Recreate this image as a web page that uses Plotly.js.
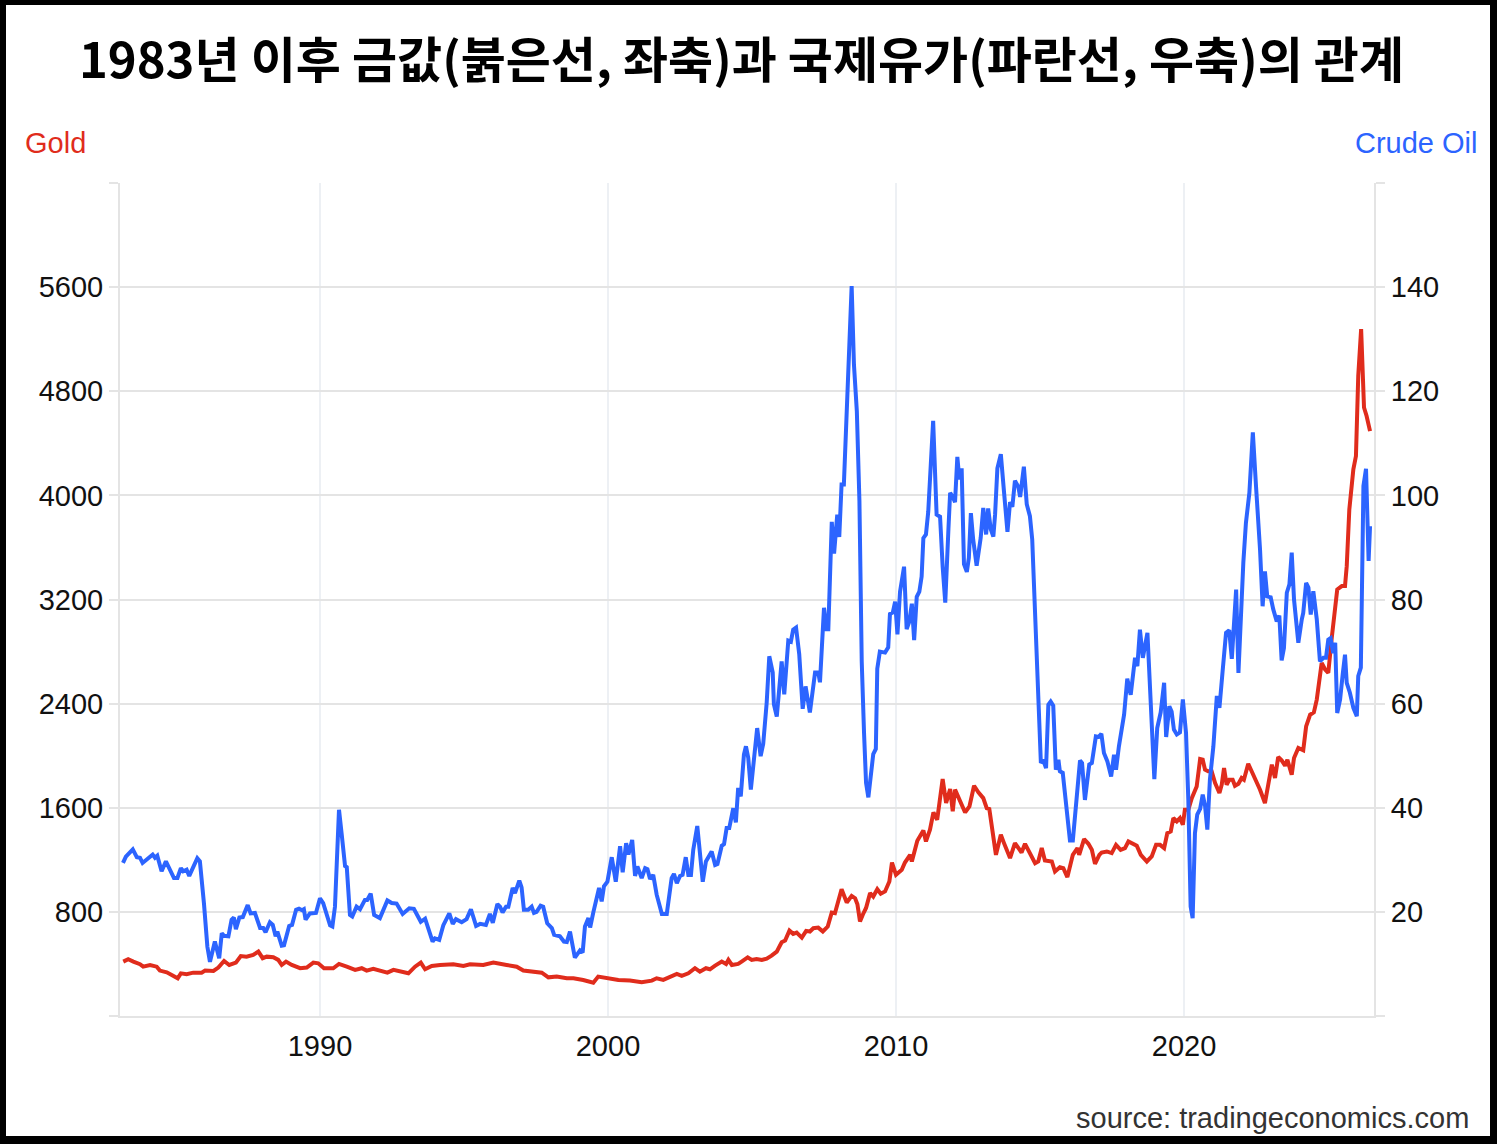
<!DOCTYPE html>
<html>
<head>
<meta charset="utf-8">
<script src="https://cdn.plot.ly/plotly-3.0.1.min.js"></script>
<style>
  html, body { margin: 0; padding: 0; background: #fff; }
  #chart { width: 1497px; height: 1144px; }
  #frame {
    position: absolute; left: 0; top: 0; width: 1497px; height: 1144px;
    box-sizing: border-box; border: solid #000; border-width: 5px 7px 8px 6px;
    pointer-events: none;
  }
</style>
</head>
<body>
<div id="chart"></div>
<div id="frame"></div>
<script>
// ─── Data ([decimal year, value]) ───────────────────────────────────────────

const TITLE = '1983년 이후 금값(붉은선, 좌축)과 국제유가(파란선, 우축)의 관계';

// Crude oil, USD/bbl (right axis)
const oilSeries = [
  [1983.16,29.4],[1983.26,30.6],[1983.50,32.0],[1983.64,30.5],[1983.75,30.4],[1983.84,29.4],
  [1984.10,30.6],[1984.19,31.0],[1984.27,30.4],[1984.35,30.8],[1984.50,27.8],[1984.65,29.7],
  [1984.93,26.5],[1985.05,26.5],[1985.17,28.4],[1985.25,27.8],[1985.37,28.1],[1985.46,26.9],
  [1985.74,30.3],[1985.83,29.7],[1985.97,21.7],[1986.09,13.3],[1986.18,10.4],[1986.35,14.3],
  [1986.50,11.1],[1986.59,15.9],[1986.67,15.4],[1986.82,15.3],[1986.93,18.5],[1987.01,18.9],
  [1987.08,16.7],[1987.20,18.9],[1987.32,19.0],[1987.49,21.3],[1987.59,19.7],[1987.74,19.8],
  [1987.92,16.9],[1988.03,16.9],[1988.11,16.1],[1988.26,18.0],[1988.36,17.5],[1988.46,15.3],
  [1988.52,16.2],[1988.67,13.5],[1988.75,13.6],[1988.93,17.3],[1989.03,17.5],[1989.17,20.4],
  [1989.27,20.6],[1989.38,20.3],[1989.44,20.5],[1989.50,18.5],[1989.65,19.7],[1989.73,19.8],
  [1989.86,19.8],[1990.00,22.6],[1990.11,21.7],[1990.35,17.4],[1990.43,17.2],[1990.52,21.0],
  [1990.66,39.6],[1990.75,35.1],[1990.87,28.8],[1990.93,28.6],[1991.04,19.4],[1991.12,19.1],
  [1991.27,21.0],[1991.39,20.5],[1991.56,22.3],[1991.64,22.3],[1991.76,23.5],[1991.88,19.4],
  [1992.08,18.8],[1992.34,22.2],[1992.49,21.7],[1992.66,21.6],[1992.87,19.6],[1993.10,20.7],
  [1993.26,20.6],[1993.50,18.1],[1993.65,18.7],[1993.91,14.3],[1993.99,14.9],[1994.14,14.6],
  [1994.28,17.4],[1994.49,19.7],[1994.61,17.7],[1994.72,18.6],[1994.92,18.0],[1995.09,18.6],
  [1995.24,20.5],[1995.42,17.3],[1995.56,17.7],[1995.76,17.5],[1995.90,19.6],[1996.00,17.9],
  [1996.16,21.5],[1996.25,21.0],[1996.34,19.9],[1996.46,21.0],[1996.54,21.0],[1996.69,24.6],
  [1996.77,23.6],[1996.92,26.0],[1997.00,24.7],[1997.08,20.4],[1997.23,20.4],[1997.35,21.0],
  [1997.43,19.8],[1997.52,20.0],[1997.66,21.2],[1997.75,21.0],[1997.89,17.8],[1998.05,16.9],
  [1998.13,15.6],[1998.33,15.3],[1998.47,14.3],[1998.57,14.2],[1998.68,16.2],[1998.85,11.2],
  [1999.03,12.6],[1999.12,12.2],[1999.20,17.2],[1999.32,18.8],[1999.38,17.0],[1999.49,19.9],
  [1999.69,24.6],[1999.78,22.0],[1999.86,24.9],[1999.98,25.8],[2000.13,30.5],[2000.27,25.8],
  [2000.42,32.6],[2000.51,27.6],[2000.63,33.2],[2000.71,31.0],[2000.84,33.8],[2000.94,26.9],
  [2001.02,28.7],[2001.17,26.5],[2001.29,28.4],[2001.37,28.2],[2001.46,26.3],[2001.57,27.1],
  [2001.69,23.3],[2001.87,19.6],[2002.04,19.6],[2002.21,26.5],[2002.29,27.3],[2002.39,25.5],
  [2002.50,26.9],[2002.59,27.1],[2002.70,30.5],[2002.79,27.1],[2002.88,27.1],[2002.96,31.9],
  [2003.10,36.5],[2003.29,25.8],[2003.40,29.7],[2003.60,31.6],[2003.72,29.0],[2003.80,29.2],
  [2003.95,32.7],[2004.03,33.0],[2004.12,36.1],[2004.21,36.1],[2004.35,39.9],[2004.44,37.2],
  [2004.52,43.8],[2004.61,42.2],[2004.72,50.2],[2004.79,51.8],[2004.87,49.6],[2004.96,43.5],
  [2005.07,49.6],[2005.18,55.3],[2005.30,49.9],[2005.39,52.3],[2005.51,60.2],[2005.60,69.1],
  [2005.72,66.0],[2005.76,59.9],[2005.86,57.5],[2006.03,68.1],[2006.12,61.8],[2006.26,72.1],
  [2006.35,71.9],[2006.43,74.2],[2006.53,74.6],[2006.64,69.5],[2006.76,59.0],[2006.86,63.3],
  [2007.01,58.3],[2007.19,66.0],[2007.30,66.0],[2007.36,64.1],[2007.50,78.4],[2007.59,74.3],
  [2007.65,74.3],[2007.77,94.9],[2007.85,88.8],[2007.96,96.3],[2008.03,92.0],[2008.11,102.1],
  [2008.19,102.1],[2008.31,120.3],[2008.46,140.2],[2008.54,125.1],[2008.64,116.2],[2008.73,99.0],
  [2008.81,68.1],[2008.89,54.4],[2008.96,44.8],[2009.04,42.0],[2009.13,46.1],[2009.21,50.3],
  [2009.30,51.3],[2009.35,66.7],[2009.44,70.0],[2009.54,69.8],[2009.62,69.8],[2009.73,70.8],
  [2009.79,77.2],[2009.89,77.5],[2009.97,79.6],[2010.05,73.3],[2010.14,81.5],[2010.28,86.3],
  [2010.37,74.3],[2010.46,75.7],[2010.55,79.2],[2010.63,72.2],[2010.72,80.5],[2010.81,81.5],
  [2010.89,84.4],[2010.95,91.8],[2011.04,92.5],[2011.12,96.9],[2011.29,114.3],[2011.41,96.3],
  [2011.53,95.9],[2011.62,86.3],[2011.71,79.4],[2011.82,93.5],[2011.88,100.5],[2011.97,99.7],
  [2012.05,98.7],[2012.13,107.4],[2012.20,103.1],[2012.28,105.2],[2012.36,86.8],[2012.46,85.3],
  [2012.53,88.0],[2012.60,96.6],[2012.68,91.5],[2012.80,86.5],[2012.94,91.8],[2013.03,97.6],
  [2013.13,92.5],[2013.20,97.5],[2013.29,93.5],[2013.38,92.1],[2013.44,96.3],[2013.52,105.2],
  [2013.64,107.9],[2013.75,100.7],[2013.87,93.0],[2013.96,98.7],[2014.04,97.8],[2014.13,102.8],
  [2014.25,101.6],[2014.31,99.7],[2014.44,105.5],[2014.54,98.3],[2014.65,96.0],[2014.73,91.5],
  [2014.83,76.8],[2014.92,60.8],[2014.98,52.4],[2015.03,48.6],[2015.11,49.2],[2015.21,47.6],
  [2015.29,59.8],[2015.37,60.4],[2015.46,59.6],[2015.55,47.3],[2015.64,49.2],[2015.69,47.0],
  [2015.79,46.7],[2015.93,38.3],[2016.04,33.7],[2016.14,33.7],[2016.25,41.5],[2016.39,49.1],
  [2016.46,48.6],[2016.56,41.5],[2016.71,48.3],[2016.80,48.6],[2016.94,53.7],[2017.04,53.6],
  [2017.13,54.2],[2017.22,50.5],[2017.34,48.9],[2017.47,46.0],[2017.57,50.2],[2017.64,47.3],
  [2017.74,51.8],[2017.92,57.9],[2018.03,64.8],[2018.15,61.7],[2018.30,68.8],[2018.38,67.2],
  [2018.47,74.2],[2018.57,68.8],[2018.73,73.6],[2018.84,60.8],[2018.97,45.5],[2019.07,55.3],
  [2019.19,58.3],[2019.31,64.0],[2019.38,53.6],[2019.49,59.5],[2019.57,58.5],[2019.65,55.0],
  [2019.75,54.1],[2019.86,54.5],[2019.96,60.8],[2020.07,54.4],[2020.15,41.5],[2020.23,21.0],
  [2020.30,18.8],[2020.38,35.1],[2020.46,38.7],[2020.56,39.8],[2020.65,42.5],[2020.73,40.4],
  [2020.81,35.8],[2020.90,45.4],[2021.02,51.8],[2021.14,61.5],[2021.23,59.2],[2021.34,66.2],
  [2021.46,73.6],[2021.57,74.1],[2021.66,68.6],[2021.81,81.9],[2021.89,65.9],[2022.06,87.1],
  [2022.15,94.7],[2022.27,100.5],[2022.39,112.1],[2022.50,101.8],[2022.64,89.6],[2022.73,78.7],
  [2022.81,85.4],[2022.89,80.6],[2023.01,80.4],[2023.10,78.1],[2023.22,75.8],[2023.31,76.9],
  [2023.39,68.3],[2023.47,70.7],[2023.57,81.3],[2023.66,82.9],[2023.74,89.0],[2023.82,80.0],
  [2023.97,71.7],[2024.09,76.2],[2024.14,77.4],[2024.24,83.2],[2024.32,82.3],[2024.40,77.1],
  [2024.49,81.6],[2024.61,76.2],[2024.72,68.1],[2024.84,68.8],[2024.93,68.8],[2025.01,72.3],
  [2025.09,72.6],[2025.18,69.7],[2025.25,71.7],[2025.32,58.2],[2025.42,60.8],[2025.51,65.6],
  [2025.59,69.4],[2025.65,64.0],[2025.76,62.1],[2025.88,59.2],[2026.00,57.6],[2026.05,65.3],
  [2026.14,66.9],[2026.23,101.8],[2026.32,105.1],[2026.41,87.4],[2026.46,94.1],
];

// Gold, USD/oz (left axis)
const goldSeries = [
  [1983.17,418],[1983.34,436],[1983.52,418],[1983.75,398],[1983.86,379],[1984.10,392],
  [1984.33,379],[1984.44,349],[1984.68,336],[1984.89,315],[1985.06,290],[1985.17,328],
  [1985.37,321],[1985.60,333],[1985.89,333],[1986.01,349],[1986.30,346],[1986.47,372],
  [1986.67,423],[1986.85,392],[1987.08,410],[1987.25,461],[1987.45,456],[1987.68,469],
  [1987.86,495],[1988.01,444],[1988.15,456],[1988.38,451],[1988.55,431],[1988.67,392],
  [1988.82,418],[1989.02,392],[1989.31,367],[1989.54,372],[1989.77,410],[1989.94,405],
  [1990.14,367],[1990.46,367],[1990.66,400],[1990.93,379],[1991.22,354],[1991.45,367],
  [1991.62,349],[1991.85,362],[1992.14,346],[1992.34,333],[1992.55,354],[1992.78,341],
  [1993.07,328],[1993.30,379],[1993.50,410],[1993.65,359],[1993.88,385],[1994.17,392],
  [1994.63,397],[1994.98,385],[1995.21,397],[1995.67,392],[1996.02,410],[1996.48,392],
  [1996.83,379],[1997.06,349],[1997.41,341],[1997.70,333],[1997.93,297],[1998.22,303],
  [1998.57,290],[1998.80,290],[1999.14,277],[1999.49,256],[1999.66,303],[1999.96,290],
  [2000.36,277],[2000.76,272],[2001.17,259],[2001.52,272],[2001.69,290],[2001.92,277],
  [2002.15,303],[2002.39,323],[2002.56,308],[2002.79,328],[2003.02,367],[2003.19,341],
  [2003.40,367],[2003.54,359],[2003.72,387],[2003.95,418],[2004.10,400],[2004.18,431],
  [2004.30,392],[2004.52,400],[2004.64,418],[2004.85,451],[2004.99,431],[2005.16,438],
  [2005.34,431],[2005.51,441],[2005.68,464],[2005.86,495],[2006.03,567],[2006.15,580],
  [2006.30,656],[2006.43,631],[2006.55,641],[2006.73,602],[2006.88,654],[2007.01,649],
  [2007.13,674],[2007.30,679],[2007.46,649],[2007.63,687],[2007.77,795],[2007.88,790],
  [2008.11,974],[2008.29,872],[2008.46,923],[2008.58,905],[2008.66,859],[2008.75,726],
  [2008.85,780],[2008.96,830],[2009.10,944],[2009.21,918],[2009.35,974],[2009.47,939],
  [2009.62,957],[2009.77,1033],[2009.86,1179],[2010.00,1085],[2010.20,1123],[2010.31,1179],
  [2010.49,1238],[2010.55,1187],[2010.74,1346],[2010.95,1425],[2011.04,1341],[2011.18,1431],
  [2011.30,1564],[2011.43,1508],[2011.62,1821],[2011.74,1636],[2011.88,1744],[2011.97,1572],
  [2012.05,1739],[2012.22,1662],[2012.40,1564],[2012.55,1610],[2012.71,1769],[2012.86,1718],
  [2013.03,1674],[2013.15,1597],[2013.24,1590],[2013.47,1238],[2013.64,1392],[2013.75,1328],
  [2013.96,1213],[2014.13,1328],[2014.25,1290],[2014.36,1256],[2014.48,1323],[2014.59,1277],
  [2014.83,1174],[2014.94,1187],[2015.06,1290],[2015.17,1195],[2015.41,1187],[2015.52,1110],
  [2015.69,1143],[2015.81,1135],[2015.95,1067],[2016.14,1238],[2016.30,1290],[2016.36,1238],
  [2016.53,1359],[2016.68,1323],[2016.80,1277],[2016.91,1169],[2017.06,1238],[2017.14,1256],
  [2017.32,1264],[2017.49,1251],[2017.64,1315],[2017.80,1277],[2017.95,1290],[2018.07,1341],
  [2018.22,1321],[2018.36,1308],[2018.50,1238],[2018.71,1187],[2018.88,1226],[2019.03,1315],
  [2019.17,1315],[2019.31,1290],[2019.42,1405],[2019.54,1418],[2019.63,1521],[2019.75,1495],
  [2019.86,1521],[2019.96,1469],[2020.03,1585],[2020.15,1585],[2020.27,1674],[2020.38,1726],
  [2020.44,1764],[2020.56,1974],[2020.65,1969],[2020.73,1892],[2020.84,1880],[2020.96,1880],
  [2021.08,1790],[2021.23,1713],[2021.31,1777],[2021.39,1905],[2021.48,1777],[2021.57,1815],
  [2021.69,1815],[2021.77,1769],[2021.89,1784],[2022.00,1828],[2022.08,1815],[2022.23,1938],
  [2022.35,1880],[2022.50,1815],[2022.64,1738],[2022.81,1636],[2022.93,1790],[2023.05,1931],
  [2023.16,1828],[2023.27,1990],[2023.39,1964],[2023.51,1923],[2023.59,1969],[2023.74,1854],
  [2023.82,1982],[2023.97,2059],[2024.14,2041],[2024.24,2225],[2024.38,2315],[2024.51,2333],
  [2024.61,2431],[2024.70,2585],[2024.78,2713],[2024.90,2662],[2025.01,2636],[2025.13,2905],
  [2025.24,3123],[2025.32,3277],[2025.48,3303],[2025.59,3303],[2025.65,3456],[2025.74,3892],
  [2025.88,4200],[2025.97,4302],[2026.05,4918],[2026.15,5277],[2026.25,4675],[2026.34,4610],
  [2026.46,4494],
];

const yearTicks = [1990, 2000, 2010, 2020];
const goldTicks = [0, 800, 1600, 2400, 3200, 4000, 4800, 5600, 6400];
const oilTicks  = [0, 20, 40, 60, 80, 100, 120, 140, 160];

// ─── Styles ────────────────────────────────────────────────────────────────

const FONT  = 'Liberation Sans, Arial, sans-serif';
const RED   = '#e02c1c';
const BLUE  = '#2c64ff';
const GRID  = '#e4e4e4';
const VGRID = '#edf0f4';

// Hide the labels on the first and last tick (0 / top), as in the original
function _labels(ticks) {
  return ticks.map((v, i) => (i === 0 || i === ticks.length - 1) ? '' : String(v));
}

function _axisY(ticks, range) {
  return {
    range, tickvals: ticks, ticktext: _labels(ticks),
    showline: true, linecolor: GRID, linewidth: 2,
    ticks: 'outside', ticklen: 9, tickwidth: 2, tickcolor: GRID,
    zeroline: false, fixedrange: true,
    tickfont: { family: FONT, size: 29, color: '#111' },
  };
}

const traces = [
  {
    x: goldSeries.map((p) => p[0]), y: goldSeries.map((p) => p[1]),
    type: 'scatter', mode: 'lines', name: 'Gold', yaxis: 'y',
    line: { color: RED, width: 4 }, hoverinfo: 'skip',
  },
  {
    x: oilSeries.map((p) => p[0]), y: oilSeries.map((p) => p[1]),
    type: 'scatter', mode: 'lines', name: 'Crude Oil', yaxis: 'y2',
    line: { color: BLUE, width: 4 }, hoverinfo: 'skip',
  },
];

const layout = {
  width: 1497, height: 1144,
  margin: { l: 120, r: 123, t: 183, b: 128 },
  paper_bgcolor: '#fff', plot_bgcolor: '#fff',
  showlegend: false,
  font: { family: FONT, size: 29, color: '#111' },
  title: {
    text: TITLE,
    font: { family: 'Noto Sans CJK KR, sans-serif', size: 49, weight: 700, color: '#000' },
    xref: 'container', yref: 'container',
    x: 0.4953, xanchor: 'center', y: 0.9466, yanchor: 'middle',
  },
  xaxis: {
    range: [1983.056, 2026.597],
    tickvals: yearTicks, ticktext: yearTicks.map(String),
    showgrid: true, gridcolor: VGRID, gridwidth: 2,
    showline: true, linecolor: GRID, linewidth: 2,
    ticks: '', zeroline: false, fixedrange: true, ticklabelstandoff: 3,
    tickfont: { family: FONT, size: 29, color: '#111' },
  },
  yaxis: Object.assign(_axisY(goldTicks, [0, 6400]), {
    showgrid: true, gridcolor: GRID, gridwidth: 2,
  }),
  yaxis2: Object.assign(_axisY(oilTicks, [0, 160]), {
    overlaying: 'y', side: 'right', showgrid: false,
  }),
  annotations: [
    {
      text: 'Gold', xref: 'paper', yref: 'paper', x: -0.077, y: 1.048,
      xanchor: 'left', yanchor: 'middle', showarrow: false,
      font: { family: FONT, size: 29, color: RED },
    },
    {
      text: 'Crude Oil', xref: 'paper', yref: 'paper', x: 1.0845, y: 1.048,
      xanchor: 'right', yanchor: 'middle', showarrow: false,
      font: { family: FONT, size: 29, color: BLUE },
    },
    {
      text: 'source: tradingeconomics.com', xref: 'paper', yref: 'paper', x: 1.0770, y: -0.1225,
      xanchor: 'right', yanchor: 'middle', showarrow: false,
      font: { family: FONT, size: 29, color: '#333' },
    },
  ],
};

Plotly.newPlot('chart', traces, layout, { staticPlot: true, displayModeBar: false });
</script>
</body>
</html>
